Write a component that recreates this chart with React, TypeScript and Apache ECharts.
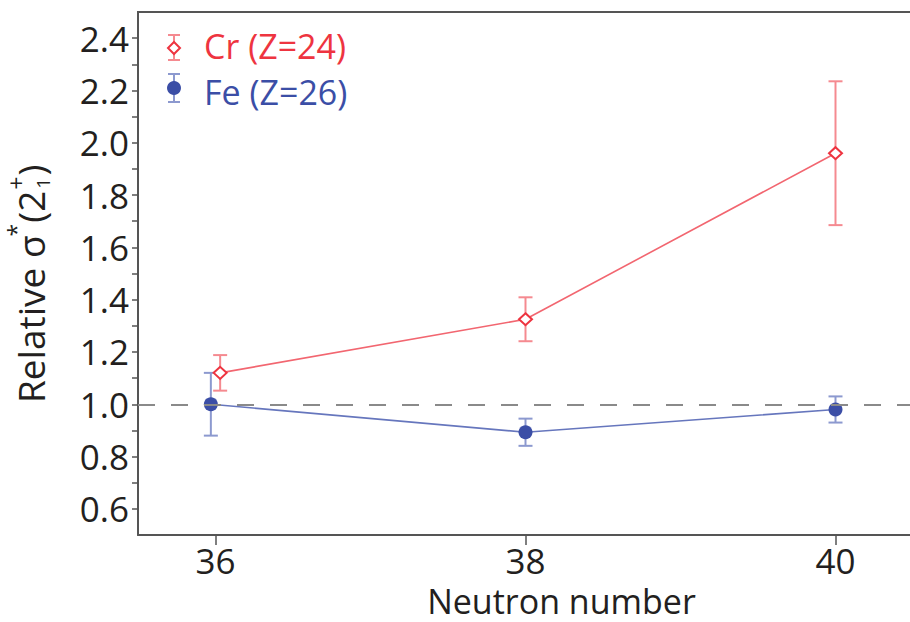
import React, { useEffect, useRef } from 'react';
import * as echarts from 'echarts';

// ---- data ----
const crX = [36.03, 38, 40];
const crY = [1.12, 1.325, 1.96];
const crErr = [0.068, 0.084, 0.275];

const feX = [35.97, 38, 40];
const feY = [1.0, 0.893, 0.98];
const feErr = [0.12, 0.052, 0.05];

const xTickValues = [36, 38, 40];
const yLabelValues = [0.6, 0.8, 1.0, 1.2, 1.4, 1.6, 1.8, 2.0, 2.2, 2.4];
const yTickValues = [0.6, 0.7, 0.8, 0.9, 1.0, 1.1, 1.2, 1.3, 1.4, 1.5, 1.6, 1.7, 1.8, 1.9, 2.0, 2.1, 2.2, 2.3, 2.4];
const referenceLevel = 1.0;

const crName = 'Cr (Z=24)';
const feName = 'Fe (Z=26)';
const xTitle = 'Neutron number';

const FONT = '"Open Sans", "Noto Sans", sans-serif';
const RED = '#ee3440';
const RED_LINE = '#f26670';
const RED_BAR = '#f58a90';
const BLUE = '#3b4ea6';
const BLUE_LINE = '#6676bd';
const BLUE_BAR = '#8c99cf';
const AXIS = '#555555';
const TXT = '#231f20';

function errorSeries(xs: number[], ys: number[], errs: number[], color: string) {
  return {
    type: 'custom',
    z: 2,
    silent: true,
    data: xs.map((x, i) => [x, ys[i] - errs[i], ys[i] + errs[i]]),
    encode: { x: 0, y: [1, 2] },
    renderItem: (params: any, api: any) => {
      const x = api.value(0);
      const lo = api.coord([x, api.value(1)]);
      const hi = api.coord([x, api.value(2)]);
      const hw = 7;
      const st = { stroke: color, lineWidth: 2 };
      return {
        type: 'group',
        children: [
          { type: 'line', shape: { x1: hi[0], y1: hi[1], x2: lo[0], y2: lo[1] }, style: st },
          { type: 'line', shape: { x1: hi[0] - hw, y1: hi[1], x2: hi[0] + hw, y2: hi[1] }, style: st },
          { type: 'line', shape: { x1: lo[0] - hw, y1: lo[1], x2: lo[0] + hw, y2: lo[1] }, style: st },
        ],
      };
    },
  };
}

export default function App() {
  const ref = useRef<HTMLDivElement>(null);
  useEffect(() => {
    if (!ref.current) return;
    const chart = echarts.init(ref.current, undefined, { renderer: 'svg' });

    const ctx = document.createElement('canvas').getContext('2d') as CanvasRenderingContext2D;
    const mw = (t: string, s: number) => {
      ctx.font = `${s}px ${FONT}`;
      return ctx.measureText(t).width;
    };
    const big = 37;
    const small = 23;
    const tiny = 19;
    const w1 = mw('Relative σ', big);
    const xStar = w1 - 1;
    const x2 = xStar + mw('*', small) + 1;
    const x3 = x2 + mw('(2', big) + 1;
    const x4 = x3 + Math.max(mw('+', small), mw('1', tiny)) + 1;
    const tStyle = (text: string, size: number, x: number, y: number) => ({
      type: 'text',
      x,
      y,
      style: { text, fontSize: size, lineHeight: size, fontFamily: FONT, fill: TXT, align: 'left', verticalAlign: 'middle' },
    });

    const legendText = (text: string, y: number, color: string) => ({
      type: 'text',
      x: 204,
      y,
      style: { text, fontSize: 34, lineHeight: 30, fontFamily: FONT, fill: color, verticalAlign: 'middle' },
    });

    const legendGraphic = [
      { type: 'line', shape: { x1: 174, y1: 35, x2: 174, y2: 60 }, style: { stroke: RED_BAR, lineWidth: 2 } },
      { type: 'line', shape: { x1: 168, y1: 35, x2: 180, y2: 35 }, style: { stroke: RED_BAR, lineWidth: 2 } },
      { type: 'line', shape: { x1: 168, y1: 60, x2: 180, y2: 60 }, style: { stroke: RED_BAR, lineWidth: 2 } },
      { type: 'polygon', shape: { points: [[174, 42], [180, 48], [174, 54], [168, 48]] }, style: { fill: '#fff', stroke: RED, lineWidth: 2 } },
      legendText(crName, 46, RED),
      { type: 'line', shape: { x1: 174, y1: 74, x2: 174, y2: 102 }, style: { stroke: BLUE_BAR, lineWidth: 2 } },
      { type: 'line', shape: { x1: 168, y1: 74, x2: 180, y2: 74 }, style: { stroke: BLUE_BAR, lineWidth: 2 } },
      { type: 'line', shape: { x1: 168, y1: 102, x2: 180, y2: 102 }, style: { stroke: BLUE_BAR, lineWidth: 2 } },
      { type: 'circle', shape: { cx: 174, cy: 88, r: 7 }, style: { fill: BLUE } },
      legendText(feName, 92, BLUE),
    ];

    const titleGroup = {
      type: 'group',
      x: 30,
      y: 403,
      rotation: Math.PI / 2,
      children: [
        tStyle('Relative σ', big, 0, 0),
        tStyle('*', small, xStar, -14),
        tStyle('(2', big, x2, 0),
        tStyle('+', small, x3, -14),
        tStyle('1', tiny, x3 + 1, 13),
        tStyle(')', big, x4, 0),
      ],
    };

    // top frame line
    const frameTop = {
      type: 'line',
      shape: { x1: 137, y1: 12, x2: 915, y2: 12 },
      style: { stroke: AXIS, lineWidth: 2 },
    };

    chart.setOption({
      animation: false,
      grid: {
        left: 138,
        top: 12,
        width: 775,
        height: 523,
        show: false,
        outerBoundsMode: 'none',
        containLabel: false,
      },
      xAxis: {
        type: 'value',
        min: 35.5,
        max: 40.5,
        name: xTitle,
        nameLocation: 'middle',
        nameGap: 52,
        nameTextStyle: { fontSize: 34, lineHeight: 28, fontFamily: FONT, color: TXT, padding: [0, 0, 0, 72] },
        axisLine: { show: true, lineStyle: { color: AXIS, width: 2 } },
        axisTick: { show: true, inside: false, length: 10, customValues: xTickValues, lineStyle: { color: AXIS, width: 1.5 } },
        axisLabel: { customValues: xTickValues, fontSize: 35, lineHeight: 28, fontFamily: FONT, color: TXT, margin: 11 },
        splitLine: { show: false },
      },
      yAxis: {
        type: 'value',
        min: 0.5,
        max: 2.5,
        axisLine: { show: true, lineStyle: { color: AXIS, width: 2 } },
        axisTick: { show: true, inside: false, length: 6, customValues: yTickValues, lineStyle: { color: AXIS, width: 1.5 } },
        axisLabel: {
          customValues: yLabelValues,
          formatter: (v: number) => v.toFixed(1),
          fontSize: 35,
          fontFamily: FONT,
          color: TXT,
          margin: 9,
        },
        splitLine: { show: false },
      },
      series: [
        errorSeries(crX, crY, crErr, RED_BAR),
        errorSeries(feX, feY, feErr, BLUE_BAR),
        {
          type: 'line',
          name: crName,
          z: 3,
          data: crX.map((x, i) => [x, crY[i]]),
          symbol: 'diamond',
          symbolSize: [13, 12],
          showSymbol: true,
          lineStyle: { color: RED_LINE, width: 1.6 },
          itemStyle: { color: '#ffffff', borderColor: RED, borderWidth: 2 },
        },
        {
          type: 'line',
          name: feName,
          z: 3,
          data: feX.map((x, i) => [x, feY[i]]),
          symbol: 'circle',
          symbolSize: 14,
          lineStyle: { color: BLUE_LINE, width: 1.6 },
          itemStyle: { color: BLUE },
          markLine: {
            silent: true,
            symbol: 'none',
            label: { show: false },
            lineStyle: { type: [17, 16], color: '#8a8a8a', width: 2 },
            data: [{ yAxis: referenceLevel }],
          },
        },
      ],
      graphic: [...legendGraphic, titleGroup, frameTop],
    });
    return () => chart.dispose();
  }, []);
  return <div ref={ref} style={{ position: 'absolute', left: 0, top: 0, width: 910, height: 622, overflow: 'hidden' }} />;
}
